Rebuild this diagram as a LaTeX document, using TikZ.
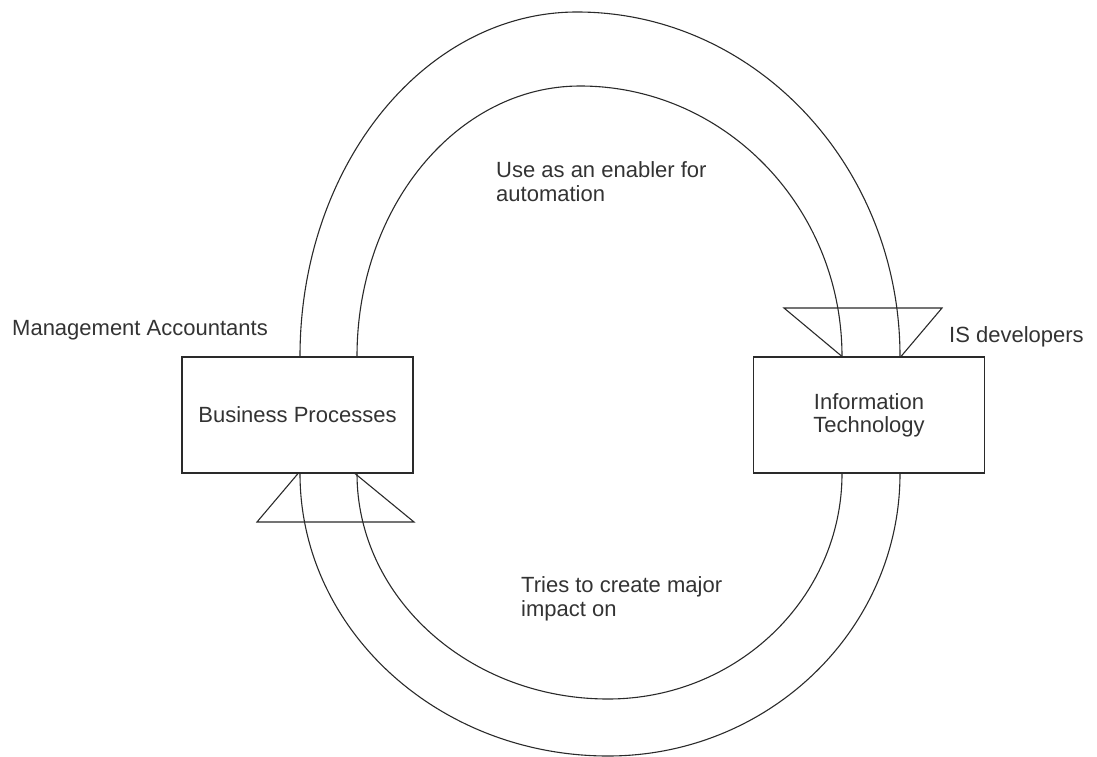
\documentclass[tikz,border=0pt]{standalone}
\usepackage{fontspec}
\setmainfont{Liberation Sans}
\definecolor{linec}{HTML}{2A2A2A}
\definecolor{txt}{HTML}{333333}
\begin{document}
\begin{tikzpicture}[x=1pt,y=-1pt,
  box/.style={draw=linec, line width=1.1pt, minimum width=231pt, minimum height=116pt,
    inner sep=0pt, align=center, text=txt, font=\fontsize{22}{23}\selectfont},
  lbl/.style={anchor=base west, inner sep=0pt, align=left, text=txt, font=\fontsize{22}{24}\selectfont},
  band/.style={draw=linec, line width=1.1pt},
  head/.style={draw=linec, line width=1.1pt, line join=miter}]
\useasboundingbox (0,0) rectangle (1097,757);

% boxes
\node[box] (bp) at (297.5,415) {Business Processes};
\node[box] (it) at (869,415) {Information\\Technology};

% anchor points of the bands on the boxes
\coordinate (bpTo) at (bp.north -| 300,0);
\coordinate (bpTi) at (bp.north -| 357,0);
\coordinate (bpBo) at (bp.south -| 300,0);
\coordinate (bpBi) at (bp.south -| 357,0);
\coordinate (itTo) at (it.north -| 900,0);
\coordinate (itTi) at (it.north -| 842,0);
\coordinate (itBo) at (it.south -| 900,0);
\coordinate (itBi) at (it.south -| 842,0);

% upper band
\draw[band] (bpTo) .. controls (300,166.5) and (424,12) .. (577,12)
  .. controls (755.4,12) and (900,166.5) .. (itTo);
\draw[band] (bpTi) .. controls (357,207.3) and (456.8,86) .. (580,86)
  .. controls (724.7,86) and (842,207.3) .. (itTi);

% lower band
\draw[band] (bpBo) .. controls (300,629.3) and (437.9,756) .. (608,756)
  .. controls (769.3,756) and (900,629.3) .. (itBo);
\draw[band] (bpBi) .. controls (357,597.8) and (469.4,699) .. (608,699)
  .. controls (737.2,699) and (842,597.8) .. (itBi);

% open wide arrowheads
\draw[head] (itTi) -- (784,308) -- (942,308) -- (it.north -| 901,0);
\draw[head] (bp.south -| 298,0) -- (257,522) -- (414,522) -- (bp.south -| 355,0);

% labels
\node[lbl] (ma) at (12,335) {Management Accountants};
\node[lbl] (use) at (496,201) {Use as an enabler for\\automation};
\node[lbl] (isd) at (949,342) {IS developers};
\node[lbl] (tries) at (521,616) {Tries to create major\\impact on};
\end{tikzpicture}
\end{document}
